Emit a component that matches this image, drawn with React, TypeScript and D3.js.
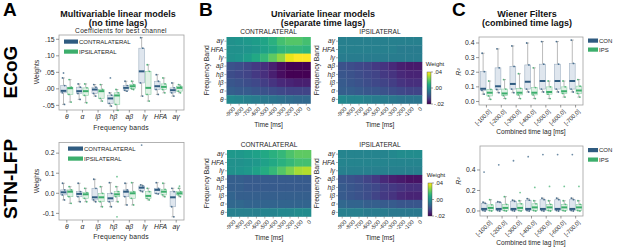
import React from 'react';
import * as d3 from 'd3';

// ---------- DATA ----------
const bands = ['θ', 'α', 'lβ', 'hβ', 'aβ', 'lγ', 'HFA', 'aγ'];
const heatBands = ['aγ', 'HFA', 'lγ', 'aβ', 'hβ', 'lβ', 'α', 'θ'];
const timeLabels = ['-900', '-800', '-700', '-600', '-500', '-400', '-300', '-200', '-100', '0'];
const lagLabels = ['[-100,0]', '[-200,0]', '[-300,0]', '[-400,0]', '[-500,0]', '[-600,0]', '[-700,0]'];

// box stats: [lowWhisker, q1, median, q3, highWhisker]
const ecogContra = [
  [-0.047, -0.012, -0.006, 0.010, 0.033],
  [-0.032, -0.014, -0.007, 0.005, 0.015],
  [-0.022, -0.014, -0.002, 0.005, 0.013],
  [-0.052, -0.044, -0.029, -0.019, -0.012],
  [-0.007, -0.004, 0.003, 0.010, 0.023],
  [-0.022, 0.018, 0.053, 0.123, 0.155],
  [-0.017, -0.002, 0.008, 0.023, 0.043],
  [-0.022, -0.012, -0.004, 0.003, 0.018],
];
const ecogIpsi = [
  [-0.040, -0.017, 0.002, 0.005, 0.028],
  [-0.042, -0.020, -0.007, 0.003, 0.015],
  [-0.037, -0.029, -0.007, -0.002, 0.013],
  [-0.065, -0.047, -0.020, -0.012, -0.002],
  [-0.002, 0.001, 0.008, 0.013, 0.023],
  [-0.037, -0.017, 0.003, 0.053, 0.073],
  [-0.012, -0.002, 0.006, 0.015, 0.033],
  [-0.012, -0.007, 0.003, 0.008, 0.013],
];
const ecogContraOut = [[0, 0.048], [3, 0.033]];
const ecogIpsiOut: number[][] = [];

const stnContra = [
  [-0.033, -0.008, 0.005, 0.017, 0.050],
  [-0.042, -0.017, -0.003, 0.008, 0.050],
  [-0.042, -0.033, -0.020, 0.025, 0.070],
  [-0.067, -0.042, -0.025, 0.000, 0.053],
  [-0.058, -0.017, 0.008, 0.017, 0.050],
  [0.008, 0.013, 0.028, 0.037, 0.042],
  [-0.003, 0.000, 0.017, 0.025, 0.053],
  [-0.117, -0.067, -0.020, 0.008, 0.025],
];
const stnIpsi = [
  [-0.050, -0.017, 0.008, 0.017, 0.033],
  [-0.042, -0.025, -0.005, 0.003, 0.025],
  [-0.067, -0.042, -0.020, 0.000, 0.033],
  [-0.042, -0.017, -0.005, 0.008, 0.033],
  [-0.058, -0.025, 0.000, 0.008, 0.053],
  [-0.033, -0.025, -0.013, 0.008, 0.025],
  [-0.017, -0.008, 0.008, 0.020, 0.050],
  [-0.017, -0.008, 0.000, 0.008, 0.025],
];
const stnContraOut = [[5, 0.24]];
const stnIpsiOut = [[3, 0.083], [3, -0.117], [7, 0.035]];

const wfTopCon = [
  [0.050, 0.076, 0.087, 0.204, 0.33],
  [0.060, 0.082, 0.104, 0.230, 0.36],
  [0.060, 0.085, 0.120, 0.240, 0.38],
  [0.065, 0.085, 0.135, 0.250, 0.40],
  [0.065, 0.085, 0.140, 0.255, 0.41],
  [0.065, 0.085, 0.140, 0.255, 0.41],
  [0.065, 0.085, 0.140, 0.260, 0.42],
];
const wfTopIps = [
  [0.015, 0.038, 0.060, 0.082, 0.14],
  [0.020, 0.040, 0.055, 0.085, 0.15],
  [0.020, 0.045, 0.060, 0.090, 0.19],
  [0.020, 0.045, 0.060, 0.095, 0.23],
  [0.020, 0.050, 0.065, 0.100, 0.14],
  [0.030, 0.055, 0.070, 0.100, 0.14],
  [0.030, 0.055, 0.075, 0.105, 0.15],
];
const wfBotCon = [
  [0, 0.005, 0.02, 0.075, 0.085],
  [0, 0.005, 0.02, 0.085, 0.09],
  [0, 0.005, 0.02, 0.095, 0.105],
  [0, 0.005, 0.02, 0.105, 0.12],
  [0, 0.005, 0.02, 0.110, 0.125],
  [0, 0.005, 0.02, 0.110, 0.125],
  [0, 0.005, 0.02, 0.110, 0.125],
];
const wfBotIps = [
  [0, 0.005, 0.030, 0.060, 0.11],
  [0, 0.005, 0.030, 0.065, 0.14],
  [0, 0.005, 0.030, 0.070, 0.10],
  [0, 0.005, 0.035, 0.070, 0.10],
  [0, 0.005, 0.035, 0.065, 0.10],
  [0, 0.005, 0.035, 0.065, 0.10],
  [0, 0.005, 0.035, 0.065, 0.10],
];
const wfBotConOut = [[0, 0.38], [1, 0.45], [2, 0.49], [3, 0.53], [4, 0.55], [5, 0.55], [6, 0.55]];
const wfBotIpsOut = [[2, 0.18], [3, 0.23], [4, 0.24], [5, 0.24], [6, 0.24]];

// heatmaps rows top->bottom: aγ, HFA, lγ, aβ, hβ, lβ, α, θ ; columns -900..0
const heatEcogContra = [
  [0.010, 0.011, 0.012, 0.013, 0.015, 0.018, 0.022, 0.024, 0.024, 0.022],
  [0.010, 0.010, 0.011, 0.012, 0.014, 0.016, 0.019, 0.020, 0.020, 0.019],
  [0.010, 0.011, 0.013, 0.016, 0.020, 0.025, 0.030, 0.038, 0.040, 0.040],
  [-0.005, -0.006, -0.008, -0.010, -0.012, -0.015, -0.018, -0.020, -0.020, -0.020],
  [-0.006, -0.007, -0.008, -0.010, -0.012, -0.015, -0.018, -0.020, -0.020, -0.020],
  [-0.004, -0.005, -0.006, -0.007, -0.009, -0.011, -0.013, -0.014, -0.015, -0.015],
  [-0.002, -0.003, -0.003, -0.004, -0.005, -0.006, -0.007, -0.008, -0.008, -0.008],
  [0.008, 0.007, 0.006, 0.005, 0.004, 0.003, 0.002, 0.001, 0.000, 0.000],
];
const heatEcogIpsi = [
  [0.006, 0.006, 0.006, 0.006, 0.006, 0.006, 0.006, 0.006, 0.006, 0.006],
  [0.006, 0.006, 0.006, 0.006, 0.006, 0.006, 0.006, 0.005, 0.005, 0.005],
  [0.005, 0.005, 0.005, 0.005, 0.005, 0.005, 0.005, 0.005, 0.005, 0.005],
  [-0.005, -0.006, -0.007, -0.008, -0.010, -0.011, -0.013, -0.015, -0.016, -0.016],
  [-0.004, -0.005, -0.006, -0.007, -0.008, -0.010, -0.011, -0.013, -0.014, -0.014],
  [-0.003, -0.004, -0.005, -0.006, -0.007, -0.008, -0.009, -0.011, -0.012, -0.012],
  [-0.002, -0.002, -0.003, -0.004, -0.004, -0.005, -0.006, -0.007, -0.008, -0.008],
  [0.008, 0.007, 0.007, 0.006, 0.005, 0.005, 0.004, 0.003, 0.003, 0.003],
];
const heatStnContra = [
  [0.012, 0.012, 0.013, 0.014, 0.016, 0.018, 0.020, 0.023, 0.025, 0.025],
  [0.010, 0.010, 0.011, 0.012, 0.014, 0.016, 0.018, 0.020, 0.022, 0.022],
  [0.010, 0.011, 0.012, 0.014, 0.017, 0.020, 0.024, 0.028, 0.032, 0.033],
  [-0.002, -0.002, -0.003, -0.003, -0.003, -0.003, -0.003, -0.003, -0.003, -0.003],
  [-0.002, -0.002, -0.003, -0.003, -0.003, -0.003, -0.003, -0.003, -0.003, -0.003],
  [-0.001, -0.002, -0.002, -0.002, -0.002, -0.002, -0.002, -0.002, -0.002, -0.002],
  [0.000, 0.000, -0.001, -0.001, -0.001, -0.001, -0.001, -0.001, -0.001, -0.001],
  [0.006, 0.006, 0.006, 0.006, 0.007, 0.007, 0.008, 0.008, 0.009, 0.009],
];
const heatStnIpsi = [
  [0.007, 0.007, 0.007, 0.007, 0.007, 0.007, 0.008, 0.009, 0.009, 0.009],
  [0.007, 0.007, 0.007, 0.007, 0.007, 0.007, 0.007, 0.007, 0.007, 0.007],
  [0.006, 0.006, 0.006, 0.006, 0.006, 0.006, 0.006, 0.006, 0.006, 0.006],
  [-0.004, -0.005, -0.006, -0.008, -0.010, -0.013, -0.015, -0.016, -0.017, -0.017],
  [-0.003, -0.004, -0.005, -0.006, -0.007, -0.009, -0.010, -0.011, -0.012, -0.012],
  [-0.003, -0.004, -0.005, -0.006, -0.008, -0.010, -0.011, -0.013, -0.014, -0.014],
  [0.000, -0.001, -0.001, -0.002, -0.002, -0.003, -0.003, -0.004, -0.004, -0.004],
  [0.006, 0.006, 0.006, 0.005, 0.005, 0.005, 0.004, 0.004, 0.004, 0.004],
];

const ecogTicks = [-0.05, 0, 0.05, 0.10, 0.15];
const ecogTickLabels = ['-.05', '.00', '.05', '.10', '.15'];
const stnTicks = [-0.1, 0, 0.1, 0.2];
const stnTickLabels = ['-0.1', '0.0', '0.1', '0.2'];
const wfTopTicks = [0, 0.1, 0.2, 0.3, 0.4];
const wfBotTicks = [0, 0.2, 0.4];
const cbarTickLabels = ['.04', '.00', '-.02'];

// ---------- STYLE ----------
const FONT = 'Liberation Sans, Arial, sans-serif';
const TXT = '#262626';
const CON = '#2f5b80';
const IPS = '#3cae6c';
const CON_FILL = '#dfe6ee';
const IPS_FILL = '#e1f1e6';
const FRAME = '#a0a0a0';
const cmap = d3.scaleSequential(d3.interpolateViridis).domain([-0.02, 0.04]);

type BoxProps = {
  x0: number; x1: number; y0: number; y1: number;
  domain: [number, number];
  cats: string[];
  italic?: boolean;
  rotateLabels?: boolean;
  ticks: number[];
  tickLabels: string[];
  a: number[][]; b: number[][];
  aOut: number[][]; bOut: number[][];
  bw: number; off: number;
};

function Box({ cx, s, w, y, fill, stroke, color }: any) {
  const [lo, q1, md, q3, hi] = s;
  return (
    <g>
      <line x1={cx} x2={cx} y1={y(hi)} y2={y(q3)} stroke="#8c8c8c" strokeWidth={0.6} />
      <line x1={cx} x2={cx} y1={y(q1)} y2={y(lo)} stroke="#8c8c8c" strokeWidth={0.6} />
      <line x1={cx - w / 4} x2={cx + w / 4} y1={y(hi)} y2={y(hi)} stroke="#8c8c8c" strokeWidth={0.6} />
      <line x1={cx - w / 4} x2={cx + w / 4} y1={y(lo)} y2={y(lo)} stroke="#8c8c8c" strokeWidth={0.6} />
      <rect x={cx - w / 2} y={y(q3)} width={w} height={Math.max(0.5, y(q1) - y(q3))} fill={fill} stroke={stroke} strokeWidth={0.6} />
      <line x1={cx - w / 2} x2={cx + w / 2} y1={y(md)} y2={y(md)} stroke={color} strokeWidth={2} />
      <circle cx={cx - 1} cy={y(hi)} r={0.9} fill={color} opacity={0.8} />
      <circle cx={cx + 1} cy={y(lo)} r={0.9} fill={color} opacity={0.8} />
      <circle cx={cx + 1.2} cy={y(q3)} r={0.9} fill={color} opacity={0.8} />
      <circle cx={cx - 1.2} cy={y(q1)} r={0.9} fill={color} opacity={0.8} />
    </g>
  );
}

function BoxPanel(p: BoxProps) {
  const x = d3.scaleBand().domain(p.cats).range([p.x0, p.x1]);
  const y = d3.scaleLinear().domain(p.domain).range([p.y1, p.y0]);
  const c = (i: number) => (x(p.cats[i]) as number) + x.bandwidth() / 2;
  return (
    <g fontFamily={FONT}>
      <rect x={p.x0} y={p.y0} width={p.x1 - p.x0} height={p.y1 - p.y0} fill="white" stroke={FRAME} strokeWidth={0.8} />
      {p.ticks.map((t, i) => (
        <g key={i}>
          <line x1={p.x0 - 3} x2={p.x0} y1={y(t)} y2={y(t)} stroke="#555" strokeWidth={0.6} />
          <text x={p.x0 - 4.5} y={y(t) + 2.3} fontSize={6.8} textAnchor="end" fill={TXT}>{p.tickLabels[i]}</text>
        </g>
      ))}
      {p.cats.map((cat, i) => (
        <g key={cat}>
          <line x1={c(i)} x2={c(i)} y1={p.y1} y2={p.y1 + 2.5} stroke="#555" strokeWidth={0.6} />
          {p.rotateLabels ? (
            <text transform={`translate(${c(i) + 2},${p.y1 + 4}) rotate(-45)`} fontSize={5.8} textAnchor="end" dy="0.7em" fill={TXT}>{cat}</text>
          ) : (
            <text x={c(i)} y={p.y1 + 8.5} fontSize={6.8} textAnchor="middle" fontStyle={p.italic ? 'italic' : 'normal'} fill={TXT}>{cat}</text>
          )}
        </g>
      ))}
      {p.a.map((s, i) => (
        <Box key={'a' + i} cx={c(i) - p.off} s={s} w={p.bw} y={y} fill={CON_FILL} stroke="#9fb0c2" color={CON} />
      ))}
      {p.b.map((s, i) => (
        <Box key={'b' + i} cx={c(i) + p.off} s={s} w={p.bw} y={y} fill={IPS_FILL} stroke="#8fd0a8" color={IPS} />
      ))}
      {p.aOut.map((o, i) => <circle key={'ao' + i} cx={c(o[0]) - p.off} cy={y(o[1])} r={0.9} fill={CON} opacity={0.7} />)}
      {p.bOut.map((o, i) => <circle key={'bo' + i} cx={c(o[0]) + p.off} cy={y(o[1])} r={0.9} fill={IPS} opacity={0.7} />)}
    </g>
  );
}

function Heat({ x0, y0, x1, y1, data, title, labelX }: any) {
  const x = d3.scaleBand().domain(timeLabels).range([x0, x1]);
  const y = d3.scaleBand().domain(heatBands).range([y0, y1]);
  return (
    <g fontFamily={FONT}>
      {data.map((row: number[], r: number) =>
        row.map((v: number, k: number) => (
          <rect key={r + '-' + k} x={x(timeLabels[k])} y={y(heatBands[r])} width={x.bandwidth() + 0.3} height={y.bandwidth() + 0.3} fill={cmap(v)} />
        ))
      )}
      <text x={(x0 + x1) / 2} y={y0 - 3} fontSize={6.6} textAnchor="middle" fill={TXT}>{title}</text>
      {heatBands.map((b) => (
        <g key={b}>
          <line x1={x0 - 2} x2={x0} y1={(y(b) as number) + y.bandwidth() / 2} y2={(y(b) as number) + y.bandwidth() / 2} stroke="#555" strokeWidth={0.5} />
          <text x={x0 - 3} y={(y(b) as number) + y.bandwidth() / 2 + 2.2} fontSize={6.6} fontStyle="italic" textAnchor="end" fill={TXT}>{b}</text>
        </g>
      ))}
      {timeLabels.map((t) => {
        const cx = (x(t) as number) + x.bandwidth() / 2;
        return (
          <g key={t}>
            <line x1={cx} x2={cx} y1={y1} y2={y1 + 2} stroke="#555" strokeWidth={0.5} />
            <text transform={`translate(${cx + 2},${y1 + 3}) rotate(-45)`} fontSize={5.6} textAnchor="end" dy="0.7em" fill={TXT}>{t}</text>
          </g>
        );
      })}
      <text transform={`translate(${labelX},${(y0 + y1) / 2}) rotate(-90)`} fontSize={6.8} textAnchor="middle" fill={TXT}>Frequency Band</text>
      <text x={(x0 + x1) / 2} y={y1 + 23.5} fontSize={6.6} textAnchor="middle" fill={TXT}>Time [ms]</text>
    </g>
  );
}

function Colorbar({ x, y0, y1, id }: any) {
  const stops = d3.range(0, 1.0001, 0.1);
  const ys = [y0, (y0 + y1) / 2, y1];
  return (
    <g fontFamily={FONT}>
      <defs>
        <linearGradient id={id} x1="0" y1="1" x2="0" y2="0">
          {stops.map((s) => <stop key={s} offset={s} stopColor={d3.interpolateViridis(s)} />)}
        </linearGradient>
      </defs>
      <text x={x + 8} y={y0 - 6} fontSize={6} textAnchor="middle" fill={TXT}>Weight</text>
      <rect x={x} y={y0} width={4} height={y1 - y0} fill={`url(#${id})`} stroke="#444" strokeWidth={0.4} />
      {ys.map((yy, i) => (
        <g key={i}>
          <line x1={x + 4} x2={x + 6} y1={yy} y2={yy} stroke="#444" strokeWidth={0.5} />
          <text x={x + 7} y={yy + 2} fontSize={5.8} fill={TXT}>{cbarTickLabels[i]}</text>
        </g>
      ))}
    </g>
  );
}

function Legend({ x, y, labels, gap, w }: any) {
  return (
    <g fontFamily={FONT}>
      <rect x={x} y={y} width={w} height={4.2} fill={CON} />
      <text x={x + w + 1} y={y + 4.2} fontSize={6} fill={TXT}>{labels[0]}</text>
      <rect x={x} y={y + gap} width={w} height={4.2} fill={IPS} />
      <text x={x + w + 1} y={y + gap + 4.2} fontSize={6} fill={TXT}>{labels[1]}</text>
    </g>
  );
}

export default function App() {
  return (
    <svg width={617} height={247} style={{ position: 'fixed', left: 0, top: 0, background: 'white' }} fontFamily={FONT}>
      <rect width={617} height={247} fill="white" />
      {/* Panel letters */}
      <text x={3} y={16} fontSize={19} fontWeight="bold">A</text>
      <text x={199} y={16} fontSize={19} fontWeight="bold">B</text>
      <text x={452} y={16} fontSize={19} fontWeight="bold">C</text>
      <text transform="translate(17,72) rotate(-90)" fontSize={19} fontWeight="bold" textAnchor="middle">ECoG</text>
      <text transform="translate(17,179) rotate(-90)" fontSize={19} fontWeight="bold" textAnchor="middle">STN-LFP</text>

      {/* titles */}
      <g fontWeight="bold" fontSize={9} textAnchor="middle" fill="#111">
        <text x={118} y={17}>Multivariable linear models</text>
        <text x={118} y={25.5}>(no time lags)</text>
        <text x={323} y={17}>Univariate linear models</text>
        <text x={323} y={25.5}>(separate time lags)</text>
        <text x={527} y={17}>Wiener Filters</text>
        <text x={527} y={25.5}>(combined time lags)</text>
      </g>

      {/* Panel A */}
      <text x={121} y={33} fontSize={6.6} textAnchor="middle" letterSpacing={0.3} fill={TXT}>Coefficients for best channel</text>
      <BoxPanel x0={59} x1={184} y0={35} y1={110} domain={[-0.064, 0.163]} cats={bands} italic
        ticks={ecogTicks} tickLabels={ecogTickLabels} a={ecogContra} b={ecogIpsi} aOut={ecogContraOut} bOut={ecogIpsiOut} bw={5.6} off={3.3} />
      <Legend x={64} y={39.5} labels={['CONTRALATERAL', 'IPSILATERAL']} gap={10} w={14} />
      <text transform="translate(39,72) rotate(-90)" fontSize={6.8} textAnchor="middle" fill={TXT}>Weights</text>
      <text x={121} y={130} fontSize={6.8} textAnchor="middle" letterSpacing={0.2} fill={TXT}>Frequency bands</text>

      <BoxPanel x0={59} x1={184} y0={142.5} y1={220} domain={[-0.133, 0.253]} cats={bands} italic
        ticks={stnTicks} tickLabels={stnTickLabels} a={stnContra} b={stnIpsi} aOut={stnContraOut} bOut={stnIpsiOut} bw={5.6} off={3.3} />
      <Legend x={68} y={146.5} labels={['CONTRALATERAL', 'IPSILATERAL']} gap={10} w={15} />
      <text transform="translate(39,181) rotate(-90)" fontSize={6.8} textAnchor="middle" fill={TXT}>Weights</text>
      <text x={121} y={239} fontSize={6.8} textAnchor="middle" letterSpacing={0.2} fill={TXT}>Frequency bands</text>

      {/* Panel B */}
      <Heat x0={226.5} x1={310.5} y0={37} y1={103.5} data={heatEcogContra} title="CONTRALATERAL" labelX={209} />
      <Heat x0={338} x1={422} y0={37} y1={103.5} data={heatEcogIpsi} title="IPSILATERAL" labelX={319} />
      <Colorbar x={427} y0={72} y1={104} id="cb1" />
      <Heat x0={227} x1={311} y0={150} y1={216.5} data={heatStnContra} title="CONTRALATERAL" labelX={209} />
      <Heat x0={338} x1={422} y0={150} y1={216.5} data={heatStnIpsi} title="IPSILATERAL" labelX={319} />
      <Colorbar x={428} y0={183} y1={216} id="cb2" />

      {/* Panel C */}
      <BoxPanel x0={479} x1={583} y0={37} y1={105} domain={[-0.024, 0.441]} cats={lagLabels} rotateLabels
        ticks={wfTopTicks} tickLabels={wfTopTicks.map((t) => t.toFixed(1))} a={wfTopCon} b={wfTopIps} aOut={[]} bOut={[]} bw={5.8} off={3.3} />
      <Legend x={588} y={38.5} labels={['CON', 'IPS']} gap={9} w={10} />
      <text transform="translate(461,72) rotate(-90)" fontSize={7} textAnchor="middle" fontStyle="italic" fill={TXT}>R²</text>
      <text x={531} y={134} fontSize={6.6} textAnchor="middle" fill={TXT}>Combined time lag [ms]</text>

      <BoxPanel x0={480} x1={583} y0={146} y1={216} domain={[-0.049, 0.634]} cats={lagLabels} rotateLabels
        ticks={wfBotTicks} tickLabels={wfBotTicks.map((t) => t.toFixed(1))} a={wfBotCon} b={wfBotIps} aOut={wfBotConOut} bOut={wfBotIpsOut} bw={5.8} off={3.3} />
      <Legend x={588} y={148} labels={['CON', 'IPS']} gap={9.5} w={10} />
      <text transform="translate(461,181) rotate(-90)" fontSize={7} textAnchor="middle" fontStyle="italic" fill={TXT}>R²</text>
      <text x={531} y={245} fontSize={6.6} textAnchor="middle" fill={TXT}>Combined time lag [ms]</text>
    </svg>
  );
}
